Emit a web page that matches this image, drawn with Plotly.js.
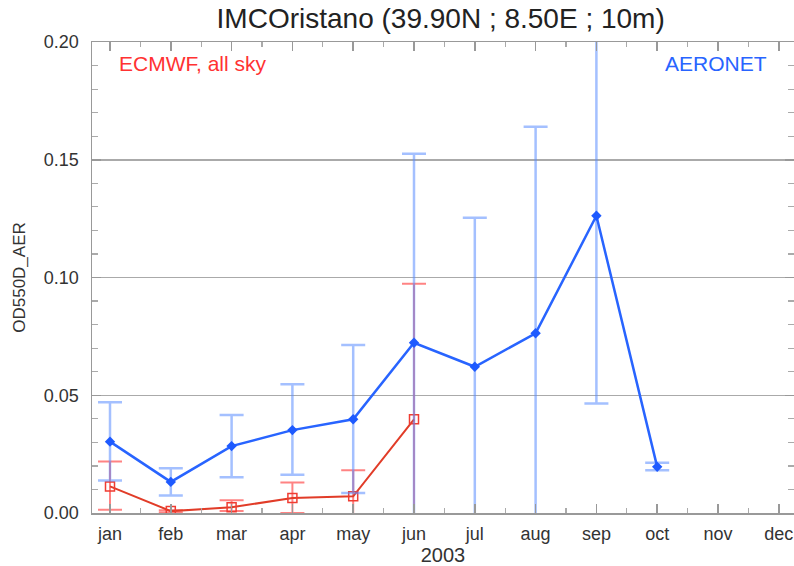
<!DOCTYPE html>
<html><head><meta charset="utf-8">
<script src="https://cdn.plot.ly/plotly-3.0.1.min.js"></script>
<style>html,body{margin:0;padding:0;background:#fff}#c{width:794px;height:566px}</style>
</head><body><div id="c"></div>
<script>
const months = [1,2,3,4,5,6,7,8,9,10,11,12];
const monthLabels = ['jan','feb','mar','apr','may','jun','jul','aug','sep','oct','nov','dec'];

const aeroMonths = [1,2,3,4,5,6,7,8,9,10];
const aeroValue  = [0.0303,0.0132,0.0284,0.0352,0.0398,0.0723,0.0621,0.0763,0.1262,0.0196];
const aeroUpper  = [0.0470,0.0190,0.0416,0.0547,0.0713,0.1525,0.1254,0.1640,0.2300,0.0213];
const aeroLower  = [0.0138,0.0074,0.0152,0.0162,0.0085,-0.0200,-0.0200,-0.0200,0.0465,0.0182];

const ecmMonths = [1,2,3,4,5,6];
const ecmValue  = [0.0113,0.0008,0.0024,0.0064,0.0071,0.0398];
const ecmUpper  = [0.0219,0.0012,0.0054,0.0129,0.0182,0.0973];
const ecmLower  = [0.0014,0.0002,0.0008,0.0000,-0.0100,-0.0200];

function plus(u,v){return u.map((x,i)=>x-v[i]);}
function minus(l,v){return v.map((x,i)=>x-l[i]);}

const FF = 'Liberation Sans, Arial, sans-serif';
const traces = [
 {x:ecmMonths,y:ecmValue,type:'scatter',mode:'lines+markers',
  line:{color:'rgb(225,60,40)',width:2},
  marker:{symbol:'square-open',size:9,color:'rgb(240,60,50)',line:{width:1.5}},
  error_y:{type:'data',symmetric:false,array:plus(ecmUpper,ecmValue),arrayminus:minus(ecmLower,ecmValue),
    color:'rgba(255,90,90,0.75)',thickness:2,width:12}},
 {x:aeroMonths,y:aeroValue,type:'scatter',mode:'lines+markers',
  line:{color:'rgb(40,100,255)',width:2.5},
  marker:{symbol:'diamond',size:8,color:'rgb(30,90,255)'},
  error_y:{type:'data',symmetric:false,array:plus(aeroUpper,aeroValue),arrayminus:minus(aeroLower,aeroValue),
    color:'rgba(90,140,255,0.55)',thickness:2.5,width:12}}
];

const axisFont = {family:FF,size:18,color:'#333'};
const layout = {
 width:794,height:566,
 margin:{l:92,r:0,t:42,b:53},
 paper_bgcolor:'#fff',plot_bgcolor:'#fff',
 showlegend:false,
 title:{text:'IMCOristano (39.90N ; 8.50E ; 10m)',x:0.555,xanchor:'center',y:0.968,yanchor:'middle',
   font:{family:FF,size:28,color:'#222'}},
 xaxis:{range:[0.704,12.25],tickmode:'array',tickvals:months,ticktext:monthLabels,
   ticks:'inside',ticklen:9,tickwidth:1.5,tickcolor:'#999',ticklabelstandoff:4,
   minor:{dtick:0.5,tick0:0.5,ticks:'inside',ticklen:5,tickcolor:'#aaa',tickwidth:1.2},
   showline:true,linecolor:'#999',linewidth:1.5,mirror:'allticks',showgrid:false,zeroline:false,
   tickfont:axisFont,
   title:{text:'2003',font:{family:FF,size:20,color:'#333'},standoff:0}},
 yaxis:{range:[0,0.2],dtick:0.05,tick0:0,tickformat:'.2f',
   ticks:'inside',ticklen:9,tickwidth:1.5,tickcolor:'#999',ticklabelstandoff:8,
   minor:{dtick:0.01,ticks:'inside',ticklen:6,tickcolor:'#aaa',tickwidth:1.2},
   showline:true,linecolor:'#999',linewidth:1.5,mirror:'allticks',
   showgrid:true,gridcolor:'#aaa',gridwidth:1.5,zeroline:false,
   tickfont:axisFont,
   title:{text:'OD550D_AER',font:{family:FF,size:17,color:'#333'},standoff:14}},
 annotations:[
  {text:'ECMWF, all sky',xref:'paper',yref:'paper',x:0.035,y:0.955,xanchor:'left',yanchor:'middle',showarrow:false,
   font:{family:FF,size:21,color:'rgb(255,50,50)'}},
  {text:'AERONET',xref:'paper',yref:'paper',x:0.964,y:0.955,xanchor:'right',yanchor:'middle',showarrow:false,
   font:{family:FF,size:21,color:'rgb(40,100,255)'}}
 ]
};
Plotly.newPlot('c',traces,layout,{displayModeBar:false,staticPlot:true});
</script></body></html>
